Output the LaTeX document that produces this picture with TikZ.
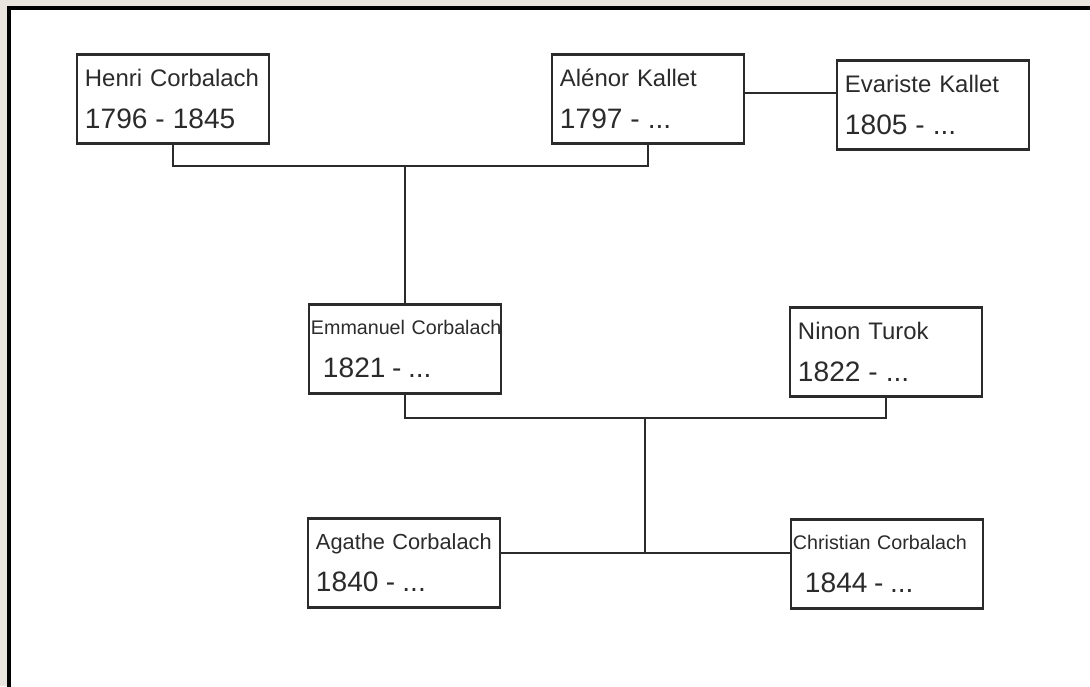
\documentclass[tikz,border=0pt]{standalone}
\usepackage{fontspec}
\setmainfont{Liberation Sans}
\definecolor{paper}{HTML}{E9E5DE}
\definecolor{ink}{HTML}{2B2B2B}
\newcommand{\yr}[1]{{\fontsize{20}{30}\selectfont #1}}
\begin{document}
\begin{tikzpicture}[x=0.025cm, y=-0.025cm,
    person/.style={draw=ink, line width=1.6pt, text=ink, minimum height=2.225cm,
      text width=4.4cm, inner xsep=0.2cm, align=left,
      font=\fontsize{17}{30}\selectfont},
    narrow/.style={text width=4.7cm, inner xsep=0.05cm,
      font=\fontsize{14}{30}\selectfont},
    tie/.style={draw=ink, line width=1.3pt}]
\useasboundingbox (0,0) rectangle (1090,686);
\fill[paper] (0,0) rectangle (1090,686);
\draw[fill=white, line width=3pt] (9,8) rectangle (1100,700);
% first generation
\node[person] (henri) at (173,99) {\mbox{Henri Corbalach}\\\yr{1796 - 1845}};
\node[person] (alenor) at (648,99) {\mbox{Alénor Kallet}\\\yr{1797 - ...}};
\node[person] (evariste) at (933,105) {\mbox{Evariste Kallet}\\\yr{1805 - ...}};
% second generation
\node[person, narrow] (emmanuel) at (405,349) {\mbox{Emmanuel Corbalach}\\\hspace*{0.3cm}\yr{1821 - ...}};
\node[person] (ninon) at (886,352) {\mbox{Ninon Turok}\\\yr{1822 - ...}};
% third generation
\node[person, font=\fontsize{15.5}{30}\selectfont] (agathe) at (404,563) {\mbox{Agathe Corbalach}\\\yr{1840 - ...}};
\node[person, narrow] (christian) at (887,564) {\mbox{Christian Corbalach}\\\hspace*{0.3cm}\yr{1844 - ...}};
\coordinate (top) at (405,166);
\coordinate (wed) at (790,93);
\coordinate (mid) at (645,418);
\coordinate (low) at (645,553);
\draw[tie] (henri.south) |- (top) -| (alenor.south);
\draw[tie] (top) -- (emmanuel.north);
\draw[tie] (alenor.east |- wed) -- (evariste.west |- wed);
\draw[tie] (emmanuel.south) |- (mid) -| (ninon.south);
\draw[tie] (mid) -- (low);
\draw[tie] (agathe.east |- low) -- (christian.west |- low);
\end{tikzpicture}
\end{document}
